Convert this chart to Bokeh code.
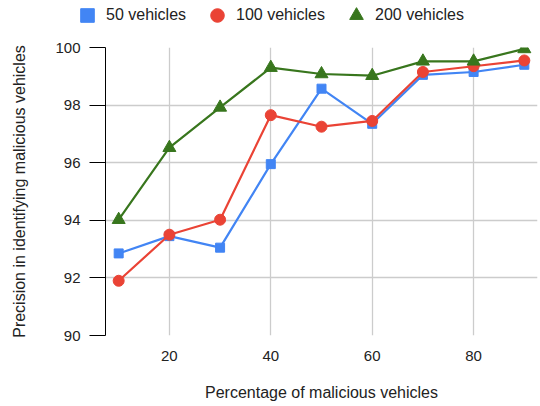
from bokeh.plotting import figure
from bokeh.layouts import column
from bokeh.models import ColumnDataSource, FixedTicker, Range1d, Legend, LegendItem
from bokeh.embed import file_html
from bokeh.resources import INLINE

# ---- data ----
pct = [10, 20, 30, 40, 50, 60, 70, 80, 90]
v50 = [92.85, 93.45, 93.05, 95.95, 98.57, 97.35, 99.05, 99.15, 99.40]
v100 = [91.90, 93.50, 94.02, 97.65, 97.25, 97.45, 99.15, 99.35, 99.55]
v200 = [94.02, 96.52, 97.92, 99.30, 99.08, 99.02, 99.52, 99.52, 99.95]
series_names = ["50 vehicles", "100 vehicles", "200 vehicles"]
x_ticks = [20, 40, 60, 80]
y_ticks = [90, 92, 94, 96, 98, 100]

colors = ["#4285F4", "#EA4335", "#38761D"]
markers = ["square", "circle", "triangle"]
sizes = [9, 11, 13]
FONT = "Liberation Sans"

src = ColumnDataSource(dict(x=pct, v50=v50, v100=v100, v200=v200))

# legend strip (own figure so the legend is not clipped by the main frame)
lg = figure(width=540, height=40, output_backend="svg", toolbar_location=None,
            x_axis_type=None, y_axis_type=None, min_border=0,
            x_range=Range1d(0, 1), y_range=Range1d(0, 1))
lg.frame_align = False
lg.outline_line_color = None
lg.xgrid.visible = False
lg.ygrid.visible = False

# main chart
p = figure(width=540, height=366, output_backend="svg", toolbar_location=None,
           x_range=Range1d(7.4, 92.6), y_range=Range1d(90, 100),
           min_border_left=105, min_border_right=3, min_border_top=7, min_border_bottom=71)
p.frame_align = False
p.outline_line_color = None
p.background_fill_color = "white"

legend_items = []
for col, c, m, s, name in zip(["v50", "v100", "v200"], colors, markers, sizes, series_names):
    p.line("x", col, source=src, line_color=c, line_width=2.2)
    p.scatter("x", col, source=src, marker=m, size=s, fill_color=c, line_color=c)
    # same series in the legend strip (its ranges keep the points out of view)
    r = lg.scatter("x", col, source=src, marker=m, fill_color=c, line_color=c)
    legend_items.append(LegendItem(label=name, renderers=[r]))

legend = Legend(items=legend_items, orientation="horizontal", location=(70, 8),
                glyph_width=34, glyph_height=34, label_standoff=2, spacing=14,
                padding=0, margin=0, border_line_color=None, background_fill_alpha=0,
                label_text_font=FONT, label_text_font_size="16px", label_text_color="#222222")
lg.add_layout(legend, "center")

# axes
p.xaxis.ticker = FixedTicker(ticks=x_ticks)
p.yaxis.ticker = FixedTicker(ticks=y_ticks)
p.xaxis.axis_line_color = None
p.xaxis.major_tick_line_color = None
p.xaxis.minor_tick_line_color = None
p.xaxis.major_label_standoff = 9
p.xaxis.axis_label = "Percentage of malicious vehicles"
p.xaxis.axis_label_standoff = 20

p.yaxis.axis_line_color = "black"
p.yaxis.major_tick_line_color = "black"
p.yaxis.major_tick_out = 16
p.yaxis.major_tick_in = 0
p.yaxis.minor_tick_line_color = None
p.yaxis.major_label_standoff = 9
p.yaxis.axis_label = "Precision in identifying malicious vehicles"
p.yaxis.axis_label_standoff = 24

for ax in [p.xaxis[0], p.yaxis[0]]:
    ax.major_label_text_font = FONT
    ax.major_label_text_font_size = "15px"
    ax.major_label_text_color = "#222222"
    ax.axis_label_text_font = FONT
    ax.axis_label_text_font_size = "16px"
    ax.axis_label_text_font_style = "normal"
    ax.axis_label_text_color = "#222222"

p.xgrid.grid_line_color = "#cccccc"
p.ygrid.grid_line_color = "#cccccc"
p.xgrid.grid_line_width = 1.3
p.ygrid.grid_line_width = 1.3

layout = column(lg, p, spacing=0)
open("out.html", "w").write(file_html(layout, INLINE))
